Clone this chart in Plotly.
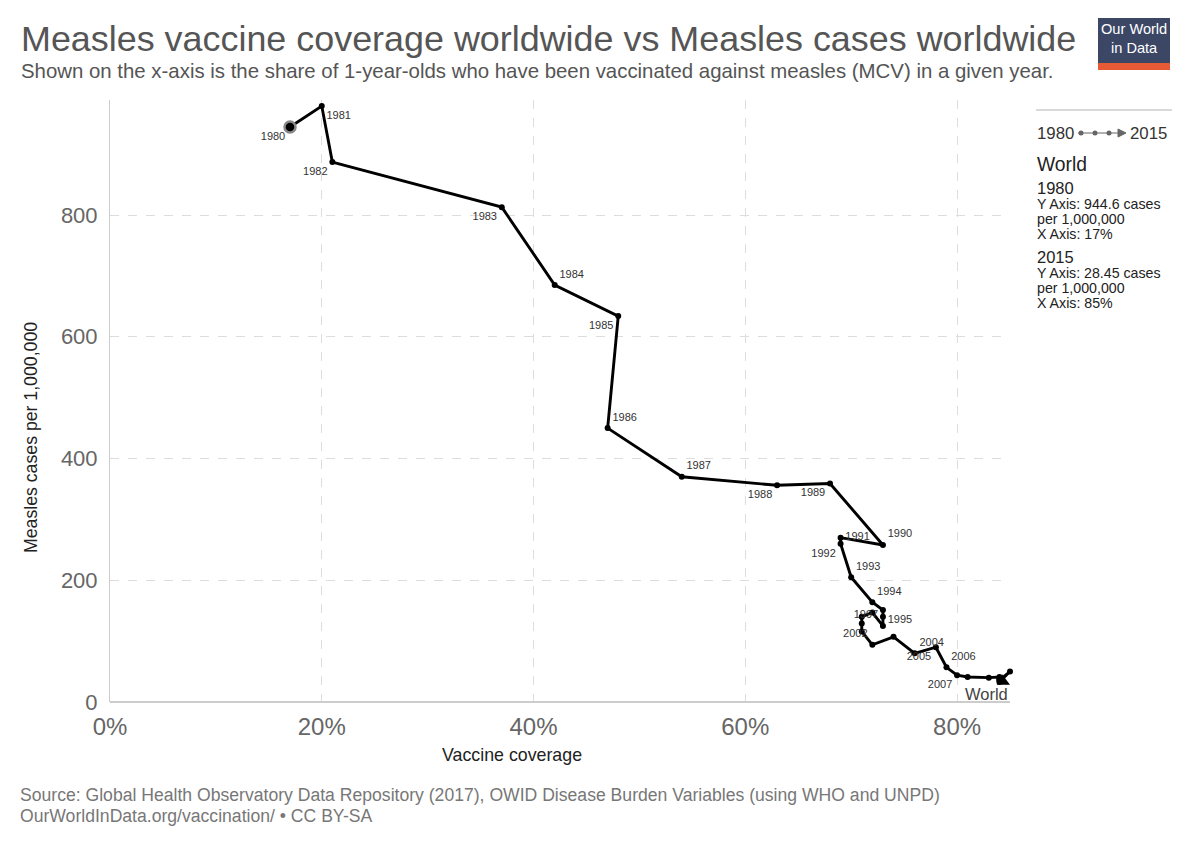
import plotly.graph_objects as go

years = list(range(1980, 2016))
coverage = [17, 20, 21, 37, 42, 48, 47, 54, 63, 68,
            73, 69, 69, 70, 72, 73, 73, 73, 72, 71,
            71, 71, 72, 74, 76, 78, 79, 80, 81, 83,
            84, 84, 85, 84, 84, 85]
cases = [944.6, 979, 887, 813, 685, 634, 450, 370, 356, 359,
         258, 270, 260, 205, 164, 151, 140, 125, 147, 140,
         129, 116, 94, 107, 80, 90, 57, 44, 41, 40,
         41, 36, 50, 33, 37, 28.45]
label_pos = {
    1980: "bottom left", 1981: "bottom right", 1982: "bottom left",
    1983: "bottom left", 1984: "top right", 1985: "bottom left",
    1986: "top right", 1987: "top right", 1988: "bottom left",
    1989: "bottom left", 1990: "top right", 1991: "middle right",
    1992: "bottom left", 1993: "top right", 1994: "top right",
    1995: "bottom right", 1997: "top left", 2002: "top left",
    2004: "top right", 2005: "bottom left", 2006: "top right",
    2007: "bottom left",
}
x_ticks = [0, 20, 40, 60, 80]
y_ticks = [0, 200, 400, 600, 800]

W, H = 1200, 847
L, R, T, B = 110, 1010, 100, 702
FONT = "Liberation Sans"


def px(x):
    return (x - L) / (R - L)


def py(y):
    return (B - y) / (B - T)


texts = [str(y) if y in label_pos else "" for y in years]
positions = [label_pos.get(y, "top right") for y in years]

fig = go.Figure()
fig.add_trace(go.Scatter(
    x=coverage[:-1], y=cases[:-1], mode="lines+markers+text",
    line=dict(color="black", width=2.9),
    marker=dict(color="black", size=6),
    text=texts[:-1], textposition=positions[:-1],
    textfont=dict(size=11, color="#333", family=FONT),
    hoverinfo="skip", showlegend=False, cliponaxis=False,
))
# start marker
fig.add_trace(go.Scatter(
    x=[coverage[0]], y=[cases[0]], mode="markers",
    marker=dict(color="black", size=11, line=dict(color="#888", width=2.5)),
    hoverinfo="skip", showlegend=False, cliponaxis=False,
))
# final arrow segment
fig.add_annotation(
    x=coverage[-1], y=cases[-1], ax=coverage[-2], ay=cases[-2],
    xref="x", yref="y", axref="x", ayref="y", text="",
    showarrow=True, arrowhead=2, arrowsize=0.9, arrowwidth=2.6, arrowcolor="black",
)
fig.add_annotation(
    x=coverage[-1], y=cases[-1], xref="x", yref="y", text="World",
    showarrow=False, xanchor="right", yanchor="top", xshift=0, yshift=2,
    font=dict(size=16.5, color="#444", family=FONT),
)

annos = []


def add_text(x, y, text, size, color, xanchor="left", yanchor="middle", angle=0):
    annos.append(dict(x=px(x), y=py(y), xref="paper", yref="paper", text=text,
                      showarrow=False, xanchor=xanchor, yanchor=yanchor,
                      textangle=angle, font=dict(size=size, color=color, family=FONT)))


add_text(19, 39, "Measles vaccine coverage worldwide vs Measles cases worldwide", 35.9, "#555")
add_text(19, 71, "Shown on the x-axis is the share of 1-year-olds who have been vaccinated against measles (MCV) in a given year.", 20.4, "#555")
add_text(512, 755, "Vaccine coverage", 17.8, "#222", xanchor="center")
add_text(31, 438, "Measles cases per 1,000,000", 17.7, "#222", xanchor="center", angle=-90)
add_text(18, 795, "Source: Global Health Observatory Data Repository (2017), OWID Disease Burden Variables (using WHO and UNPD)", 17.6, "#777")
add_text(18, 816, "OurWorldInData.org/vaccination/ • CC BY-SA", 17.6, "#777")

# legend panel
add_text(1035, 133, "1980", 16.8, "#333")
add_text(1128, 133, "2015", 16.8, "#333")
add_text(1035, 164, "World", 19.3, "#222")
add_text(1035, 188, "1980", 16.5, "#222")
add_text(1035, 204, "Y Axis: 944.6 cases", 14.2, "#222")
add_text(1035, 219, "per 1,000,000", 14.2, "#222")
add_text(1035, 234, "X Axis: 17%", 14.2, "#222")
add_text(1035, 257, "2015", 16.5, "#222")
add_text(1035, 273, "Y Axis: 28.45 cases", 14.2, "#222")
add_text(1035, 288, "per 1,000,000", 14.2, "#222")
add_text(1035, 303, "X Axis: 85%", 14.2, "#222")

# logo text
add_text(1134, 39, "Our World<br>in Data", 14.6, "white", xanchor="center")

shapes = [
    dict(type="line", xref="paper", yref="paper", x0=px(1036), x1=px(1172),
         y0=py(110), y1=py(110), line=dict(color="#ccc", width=1.5)),
    dict(type="line", xref="paper", yref="paper", x0=px(1078), x1=px(1119),
         y0=py(133), y1=py(133), line=dict(color="#666", width=1.2)),
    dict(type="path", xref="paper", yref="paper",
         path=f"M {px(1118)},{py(129)} L {px(1126)},{py(133)} L {px(1118)},{py(137)} Z",
         fillcolor="#666", line=dict(color="#666", width=1)),
    dict(type="rect", xref="paper", yref="paper", x0=px(1098), x1=px(1170),
         y0=py(70), y1=py(18), fillcolor="#3c4766", line=dict(width=0)),
    dict(type="rect", xref="paper", yref="paper", x0=px(1098), x1=px(1170),
         y0=py(70), y1=py(63), fillcolor="#e65a36", line=dict(width=0)),
]
for cx in (1081, 1095, 1109):
    shapes.append(dict(type="circle", xref="paper", yref="paper",
                       x0=px(cx - 2.5), x1=px(cx + 2.5), y0=py(135.5), y1=py(130.5),
                       fillcolor="#666", line=dict(width=0)))

fig.update_layout(
    width=W, height=H,
    margin=dict(l=L, r=W - R, t=T, b=H - B, autoexpand=False),
    paper_bgcolor="white", plot_bgcolor="white",
    font=dict(family=FONT),
    annotations=list(fig.layout.annotations) + annos,
    shapes=shapes,
    xaxis=dict(range=[0, 85], tickvals=x_ticks, ticktext=[f"{v}%" for v in x_ticks],
               showgrid=True, gridcolor="#ddd", griddash="dash", gridwidth=1,
               zeroline=False, showline=False, ticks="", ticklabelstandoff=8,
               tickfont=dict(size=24, color="#666", family=FONT)),
    yaxis=dict(range=[0, 989], tickvals=y_ticks,
               showgrid=True, gridcolor="#ddd", griddash="dash", gridwidth=1,
               zeroline=True, zerolinecolor="#ccc", zerolinewidth=1.5,
               showline=True, linecolor="#ccc", linewidth=1, ticks="",
               ticklabelstandoff=7,
               tickfont=dict(size=22, color="#666", family=FONT)),
)

fig.write_html("out.html", config={"displayModeBar": False},
               post_script="document.body.style.margin='0px';")
